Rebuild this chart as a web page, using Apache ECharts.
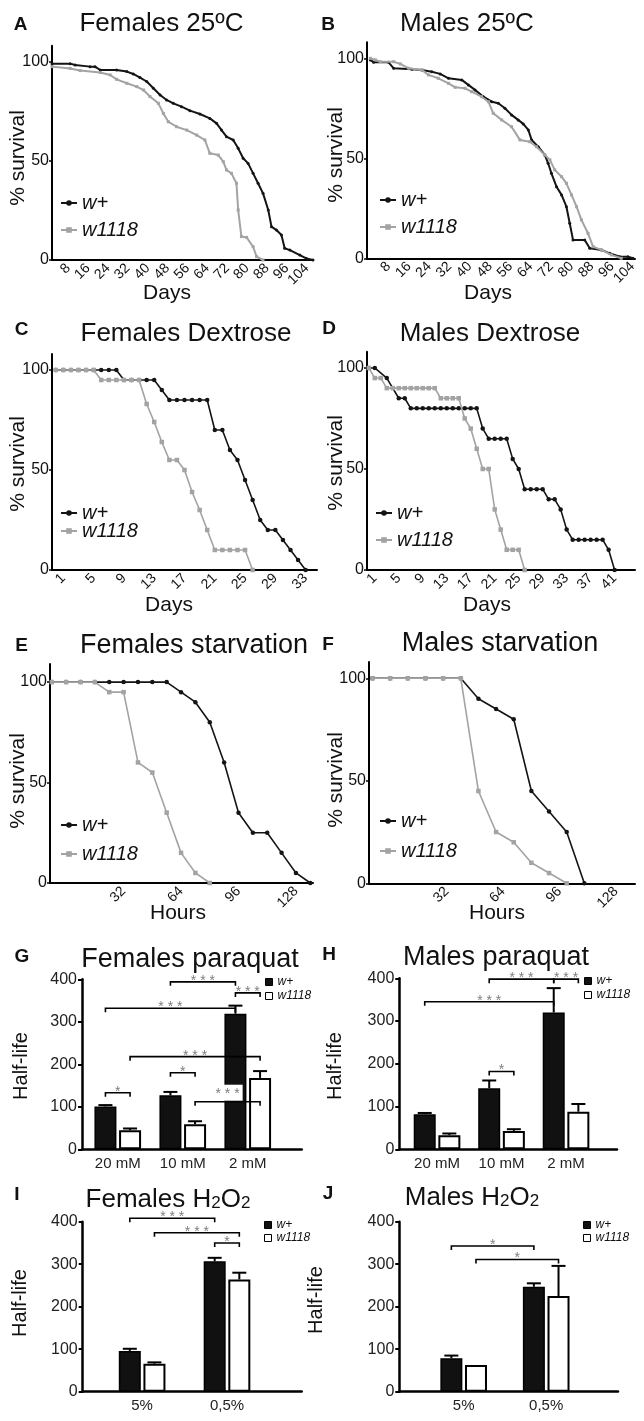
<!DOCTYPE html>
<html><head><meta charset="utf-8">
<script src="https://cdn.jsdelivr.net/npm/echarts@6/dist/echarts.min.js"></script>
<style>html,body{margin:0;padding:0;background:#fff}#c{width:644px;height:1421px}</style>
</head><body><div id="c"></div>
<script>
// ---------- DATA ----------
const A_xticks = [8,16,24,32,40,48,56,64,72,80,88,96,104];
const A_wplus = [[1.5,99],[8.8,99],[10.8,98.3],[16.8,97.5],[18.8,97.5],[20.9,95.8],[27.5,95.8],[31.6,95],[34.2,93.8],[36.9,92],[39.6,90],[42.3,86.6],[45,83.2],[47.6,80.7],[50.3,79],[53.6,77.3],[57,75.3],[61,73.6],[65,71.4],[67.7,68.9],[69.7,65.5],[71.7,62.2],[74.4,60.5],[76.4,56.3],[78.4,51.3],[80.4,48.7],[82.4,43.7],[84.4,38.7],[86.4,33.6],[88.5,25.2],[89.8,16.8],[91.8,15.1],[93.8,12.6],[95.1,5.9],[97.2,5],[101.2,2.5],[103.8,0.8],[106.5,0]];
const A_w1118 = [[1.5,97.5],[8.8,96.6],[12.8,95.5],[20.9,94.5],[24.9,93.3],[27.5,91.1],[31.6,89.1],[35.6,87.4],[38.3,85.7],[40.9,82.4],[44.3,79],[46.3,73.9],[48.3,69.7],[51.6,67.2],[55.7,65.5],[59.7,63],[63,60.5],[65,53.8],[68.4,52.9],[70.4,49.6],[71.7,45.4],[73.7,43.7],[75.7,38.7],[76.4,25.2],[77.7,11.8],[79.8,11.4],[82.4,6.7],[83.8,1.7],[86.4,0]];
const B_wplus = [[0.8,99.2],[2.1,98],[8,98],[10,95],[17.2,94.5],[21.1,94.2],[25,93.3],[28.3,92.2],[31.6,90],[36.8,89.2],[39.4,86.7],[42,84.2],[45.3,80.8],[48.6,78.3],[51.2,77.5],[53.8,75],[56.4,71.7],[59,69.2],[61,67.2],[63,64.2],[64.3,59.2],[66.9,55.8],[69.5,51.7],[70.8,47.5],[72.1,42.5],[74.1,35.8],[76.1,31.7],[78,25.8],[79.3,17.5],[80.6,9.2],[85.2,9.2],[87.2,5],[91.8,4.2],[95,2.5],[99,0.8],[102.2,0.8],[104.2,0]];
const B_w1118 = [[0.8,100],[2.8,99.2],[4.7,98.3],[10,98.3],[12.6,97.2],[15.9,95],[21.1,94.2],[23.7,91.7],[27.6,90],[31.6,87.5],[34.2,85.5],[38.1,85],[40.7,83.3],[44.6,80.8],[47.3,78.3],[49.2,72.5],[52.5,69.2],[56.4,65.8],[59.7,59.2],[63.6,58.3],[66.2,55.8],[69.5,51.7],[71.5,49.2],[73.4,44.2],[76.1,40.8],[78,37.5],[80,31.7],[82,25.8],[83.9,19.2],[86.5,12.5],[88.5,5.8],[91.8,4.2],[95.7,1.7],[99.6,0]];

const C_xticks = [1,5,9,13,17,21,25,29,33];
const C_wplus = [[0,100],[1,100],[2,100],[3,100],[4,100],[5,100],[6,100],[7,100],[8,100],[9,95],[10,95],[11,95],[12,95],[13,95],[14,90],[15,85],[16,85],[17,85],[18,85],[19,85],[20,85],[21,70],[22,70],[23,60],[24,55],[25,45],[26,35],[27,25],[28,20],[29,20],[30,15],[31,10],[32,5],[33,0]];
const C_w1118 = [[0,100],[1,100],[2,100],[3,100],[4,100],[5,100],[6,95],[7,95],[8,95],[9,95],[10,95],[11,95],[12,83],[13,74],[14,64],[15,55],[16,55],[17,50],[18,39],[19,30],[20,20],[21,10],[22,10],[23,10],[24,10],[25,10],[26,0]];

const D_xticks = [1,5,9,13,17,21,25,29,33,37,41];
const D_wplus = [[0,100],[1,100],[3,95],[5,85],[6,85],[7,80],[8,80],[9,80],[10,80],[11,80],[12,80],[13,80],[14,80],[15,80],[16,80],[17,80],[18,80],[19,70],[20,65],[21,65],[22,65],[23,65],[24,55],[25,50],[26,40],[27,40],[28,40],[29,40],[30,35],[31,35],[32,30],[33,20],[34,15],[35,15],[36,15],[37,15],[38,15],[39,15],[40,10],[41,0]];
const D_w1118 = [[0,100],[1,95],[2,95],[3,90],[4,90],[5,90],[6,90],[7,90],[8,90],[9,90],[10,90],[11,90],[12,85],[13,85],[14,85],[15,85],[16,75],[17,70],[18,60],[19,50],[20,50],[21,30],[22,20],[23,10],[24,10],[25,10],[26,0]];

const EF_xticks = [32,64,96,128];
const E_wplus = [[-8,100],[0,100],[8,100],[16,100],[24,100],[32,100],[40,100],[48,100],[56,100],[64,95],[72,90],[80,80],[88,60],[96,35],[104,25],[112,25],[120,15],[128,5],[136,0]];
const E_w1118 = [[-8,100],[0,100],[8,100],[16,100],[24,95],[32,95],[40,60],[48,55],[56,35],[64,15],[72,5],[80,0]];
const F_wplus = [[-10,100],[0,100],[10,100],[20,100],[30,100],[40,100],[50,90],[60,85],[70,80],[80,45],[90,35],[100,25],[110,0]];
const F_w1118 = [[-10,100],[0,100],[10,100],[20,100],[30,100],[40,100],[50,45],[60,25],[70,20],[80,10],[90,5],[100,0]];

const paraquatCats = ['20 mM','10 mM','2 mM'];
const G_wplus = [101,127,319], G_wplus_err = [3,8,19];
const G_w1118 = [45,59,168],   G_w1118_err = [4,7,16];
const G_brackets = [[1,0,2,0,394],[2,0,2,1,368],[0,0,2,0,332],[0,1,2,1,218],[0,0,0,1,133],[1,0,1,1,180],[1,1,2,1,112]];
const G_stars = ['***','***','***','***','*','*','***'];
const G_boxed = [0,0,0,0,0,0,1];

const H_wplus = [82,143,320], H_wplus_err = [3,18,57];
const H_w1118 = [33,43,88],   H_w1118_err = [4,4,18];
const H_brackets = [[1,0,2,0,398],[2,0,2,1,398],[0,0,2,0,345],[1,0,1,1,182]];
const H_stars = ['***','***','***','*'];
const H_boxed = [0,0,0,0];

const h2o2Cats = ['5%','0,5%'];
const I_wplus = [96,307], I_wplus_err = [5,8];
const I_w1118 = [66,264], I_w1118_err = [3,16];
const I_brackets = [[0,0,1,0,408],[0,1,1,1,374],[1,0,1,1,350]];
const I_stars = ['***','***','*'];
const I_boxed = [0,0,0];

const J_wplus = [79,247], J_wplus_err = [6,8];
const J_w1118 = [63,225], J_w1118_err = [0,71];
const J_brackets = [[0,0,1,0,343],[0,1,1,1,311]];
const J_stars = ['*','*'];
const J_boxed = [0,0];

// ---------- BUILD ----------
const FONT = '"Liberation Sans", Arial, sans-serif';
const BLK = '#141414', GRY = '#a3a3a3';
const grids = [], xAxes = [], yAxes = [], series = [], legends = [], graphics = [];

function addSurvival(id, c) {
  const i = grids.length;
  grids.push({left: c.x0, top: c.top, width: c.x1 - c.x0, height: c.y0 - c.top, containLabel: false});
  xAxes.push({gridIndex: i, type: 'value', min: c.xmin, max: c.xmax,
    axisLine: {show: true, onZero: false, lineStyle: {color: '#000', width: 2}},
    splitLine: {show: false}, axisTick: {show: false},
    axisLabel: {customValues: c.xticks, rotate: 45, fontSize: 14, fontFamily: FONT, color: '#111', margin: 6}});
  yAxes.push({gridIndex: i, type: 'value', min: 0, max: c.ymax,
    axisLine: {show: true, onZero: false, lineStyle: {color: '#000', width: 2}},
    splitLine: {show: false},
    axisTick: {show: true, length: 3, customValues: [0,50,100], lineStyle: {color: '#000', width: 1.5}},
    axisLabel: {customValues: [0,50,100], fontSize: 16, fontFamily: FONT, color: '#111', margin: 3}});
  const nb = 'w+#' + id, ng = 'w1118#' + id;
  series.push({type: 'line', name: nb, xAxisIndex: i, yAxisIndex: i, data: c.black,
    symbol: 'circle', symbolSize: c.ss, showSymbol: true, showAllSymbol: true,
    lineStyle: {color: BLK, width: c.lw}, itemStyle: {color: BLK}, z: 2, animation: false, silent: true});
  series.push({type: 'line', name: ng, xAxisIndex: i, yAxisIndex: i, data: c.grey,
    symbol: 'rect', symbolSize: c.ss, showSymbol: true, showAllSymbol: true,
    lineStyle: {color: GRY, width: c.lw}, itemStyle: {color: GRY}, z: 3, animation: false, silent: true});
  legends.push({orient: 'vertical', left: c.lx, top: c.ly, itemGap: c.lg, itemWidth: 16, itemHeight: 7,
    data: [nb, ng], selectedMode: false, padding: 0,
    formatter: n => n.split('#')[0],
    textStyle: {fontSize: 20, fontStyle: 'italic', fontFamily: FONT, color: '#111'}});
}

const BW = 22, GAP = 0.12, OFF = BW * (1 + GAP) / 2;

function addBars(id, c) {
  const i = grids.length;
  grids.push({left: c.x0, top: c.top, width: c.x1 - c.x0, height: c.y0 - c.top, containLabel: false});
  xAxes.push({gridIndex: i, type: 'value', min: c.xmin, max: c.xmax,
    axisLine: {show: true, onZero: false, lineStyle: {color: '#000', width: 2.5}},
    splitLine: {show: false}, axisTick: {show: false},
    axisLabel: {customValues: c.cats.map((_, k) => k), formatter: v => c.cats[Math.round(v)],
      fontSize: 15, fontFamily: FONT, color: '#222', margin: 7}});
  yAxes.push({gridIndex: i, type: 'value', min: 0, max: 400, interval: 100,
    axisLine: {show: true, onZero: false, lineStyle: {color: '#000', width: 2.5}},
    splitLine: {show: false},
    axisTick: {show: true, length: 4, lineStyle: {color: '#000', width: 2}},
    axisLabel: {fontSize: 16, fontFamily: FONT, color: '#222', margin: 5}});
  const nb = 'w+#' + id, ng = 'w1118#' + id;
  series.push({type: 'bar', name: nb, xAxisIndex: i, yAxisIndex: i, barWidth: BW,
    data: c.black.map((v, k) => [k, v]),
    itemStyle: {color: '#111', borderColor: '#000', borderWidth: 1.5}, z: 2, animation: false, silent: true});
  series.push({type: 'bar', name: ng, xAxisIndex: i, yAxisIndex: i, barWidth: BW, barGap: (GAP * 100) + '%',
    data: c.white.map((v, k) => [k, v]),
    itemStyle: {color: '#fff', borderColor: '#000', borderWidth: 2}, z: 2, animation: false, silent: true});
  [[c.black, c.blackErr, -OFF], [c.white, c.whiteErr, OFF]].forEach(([vals, errs, off]) => {
    series.push({type: 'custom', xAxisIndex: i, yAxisIndex: i, z: 4, animation: false, silent: true,
      data: vals.map((v, k) => [k, v, errs[k]]), encode: {x: 0, y: 1},
      renderItem: (p, api) => {
        const x = api.value(0), v = api.value(1), e = api.value(2);
        if (!e) return {type: 'group', children: []};
        const a = api.coord([x, v]), b = api.coord([x, v + e]);
        const cx = a[0] + off;
        return {type: 'group', children: [
          {type: 'line', shape: {x1: cx, y1: a[1], x2: cx, y2: b[1]}, style: {stroke: '#000', lineWidth: 2}},
          {type: 'line', shape: {x1: cx - 7, y1: b[1], x2: cx + 7, y2: b[1]}, style: {stroke: '#000', lineWidth: 2}}
        ]};
      }});
  });
  series.push({type: 'custom', xAxisIndex: i, yAxisIndex: i, z: 6, animation: false, silent: true,
    data: c.brackets, encode: {x: 0, y: 4},
    renderItem: (p, api) => {
      const g1 = api.value(0), s1 = api.value(1), g2 = api.value(2), s2 = api.value(3), y = api.value(4);
      const a = api.coord([g1, y]), b = api.coord([g2, y]);
      const xa = a[0] + (s1 ? OFF : -OFF), xb = b[0] + (s2 ? OFF : -OFF), yy = a[1];
      const boxed = c.boxed[p.dataIndex];
      const txt = c.stars[p.dataIndex].split('').join(' ');
      const ts = {text: txt, fill: '#7d7d7d', font: '14px ' + FONT,
        textAlign: 'center', align: 'center', textVerticalAlign: 'bottom', verticalAlign: 'bottom'};
      if (boxed) { ts.backgroundColor = '#fff'; ts.padding = [2, 3, 0, 3]; }
      return {type: 'group', children: [
        {type: 'polyline', shape: {points: [[xa, yy + 4], [xa, yy], [xb, yy], [xb, yy + 4]]},
          style: {stroke: '#000', lineWidth: 1.6, fill: 'none'}},
        {type: 'text', x: (xa + xb) / 2, y: boxed ? yy - 1 : yy + 6, style: ts}
      ]};
    }});
  legends.push({orient: 'vertical', left: c.lx, top: c.ly, itemGap: c.lg, itemWidth: 7, itemHeight: 7,
    selectedMode: false, padding: 0, icon: 'rect',
    data: [{name: nb, itemStyle: {color: '#111', borderColor: '#000', borderWidth: 1}},
           {name: ng, itemStyle: {color: '#fff', borderColor: '#000', borderWidth: 1}}],
    formatter: n => n.split('#')[0],
    textStyle: {fontSize: 12, fontStyle: 'italic', fontFamily: FONT, color: '#111'}});
}

addSurvival('A', {x0: 52, x1: 313, xmin: 1.5, xmax: 106.5, y0: 260, top: 45.8, ymax: 108, xticks: A_xticks,
  black: A_wplus, grey: A_w1118, ss: 3, lw: 2, lx: 60, ly: 193, lg: 7});
addSurvival('B', {x0: 367, x1: 635, xmin: -0.5, xmax: 105, y0: 258.3, top: 42.3, ymax: 108, xticks: A_xticks,
  black: B_wplus, grey: B_w1118, ss: 3, lw: 2, lx: 379, ly: 190, lg: 7});
addSurvival('C', {x0: 52, x1: 317, xmin: -0.5, xmax: 34.5, y0: 570, top: 354, ymax: 108, xticks: C_xticks,
  black: C_wplus, grey: C_w1118, ss: 4.5, lw: 1.6, lx: 60, ly: 503, lg: -2});
addSurvival('D', {x0: 367, x1: 635, xmin: -0.3, xmax: 44.4, y0: 570, top: 351.8, ymax: 108, xticks: D_xticks,
  black: D_wplus, grey: D_w1118, ss: 4.5, lw: 1.6, lx: 375, ly: 503, lg: 7});
addSurvival('E', {x0: 50, x1: 313, xmin: -9, xmax: 137.5, y0: 883, top: 664, ymax: 109, xticks: EF_xticks,
  black: E_wplus, grey: E_w1118, ss: 4.5, lw: 1.6, lx: 60, ly: 815, lg: 9});
addSurvival('F', {x0: 369, x1: 635, xmin: -12, xmax: 138.7, y0: 883.3, top: 661.9, ymax: 108, xticks: EF_xticks,
  black: F_wplus, grey: F_w1118, ss: 4.5, lw: 1.6, lx: 379, ly: 811, lg: 10});

addBars('G', {x0: 82, x1: 301.7, xmin: -0.55, xmax: 2.83, y0: 1149.3, top: 979.3, cats: paraquatCats,
  black: G_wplus, blackErr: G_wplus_err, white: G_w1118, whiteErr: G_w1118_err,
  brackets: G_brackets, stars: G_stars, boxed: G_boxed, lx: 265, ly: 976, lg: 2});
addBars('H', {x0: 399.3, x1: 617, xmin: -0.585, xmax: 2.79, y0: 1149.3, top: 978.3, cats: paraquatCats,
  black: H_wplus, blackErr: H_wplus_err, white: H_w1118, whiteErr: H_w1118_err,
  brackets: H_brackets, stars: H_stars, boxed: H_boxed, lx: 584, ly: 975, lg: 2});
addBars('I', {x0: 82.7, x1: 301.7, xmin: -0.70, xmax: 1.88, y0: 1391.7, top: 1221.7, cats: h2o2Cats,
  black: I_wplus, blackErr: I_wplus_err, white: I_w1118, whiteErr: I_w1118_err,
  brackets: I_brackets, stars: I_stars, boxed: I_boxed, lx: 264, ly: 1219, lg: 1});
addBars('J', {x0: 399.3, x1: 618, xmin: -0.78, xmax: 1.87, y0: 1391.7, top: 1221.7, cats: h2o2Cats,
  black: J_wplus, blackErr: J_wplus_err, white: J_w1118, whiteErr: J_w1118_err,
  brackets: J_brackets, stars: J_stars, boxed: J_boxed, lx: 583, ly: 1219, lg: 1});

// ---------- TEXTS ----------
function txt(t, x, y, size, opts = {}) {
  graphics.push({type: 'text', x, y, rotation: opts.rot || 0, silent: true,
    style: {text: t, fill: '#111', font: (opts.bold ? 'bold ' : '') + size + 'px ' + FONT,
      textAlign: 'center', align: 'center', textVerticalAlign: 'middle', verticalAlign: 'middle', rich: opts.rich}});
}
txt('Females 25ºC', 161.5, 24, 26); txt('Males 25ºC', 467, 24, 26);
txt('Females Dextrose', 186, 334, 26); txt('Males Dextrose', 490, 334, 26);
txt('Females starvation', 194, 645.5, 27); txt('Males starvation', 500, 644, 27);
txt('Females paraquat', 190, 960, 27); txt('Males paraquat', 496, 958, 27);
const richH = {a: {fontSize: 26, fontFamily: FONT, color: '#111'}, s: {fontSize: 17, fontFamily: FONT, color: '#111', verticalAlign: 'bottom', padding: [0,0,1,0]}};
txt('{a|Females H}{s|2}{a|O}{s|2}', 168, 1200, 26, {rich: richH});
txt('{a|Males H}{s|2}{a|O}{s|2}', 472, 1198, 26, {rich: richH});
[['A',20.5,25],['B',328,25],['C',21.5,330],['D',329,329],['E',21.5,646],['F',328,645],['G',22,957],['H',329,955],['I',17,1195],['J',328,1194]]
  .forEach(([t, x, y]) => txt(t, x, y, 19, {bold: true}));
txt('Days', 167, 293, 21); txt('Days', 488, 293, 21);
txt('Days', 169, 605, 21); txt('Days', 487, 605, 21);
txt('Hours', 178, 913, 21); txt('Hours', 497, 913, 21);
[[18,158],[336,155],[18,464],[336,463],[18,781],[336,780]].forEach(([x, y]) => txt('% survival', x, y, 21, {rot: Math.PI / 2}));
[[21,1066],[335,1066],[20,1303],[316,1300]].forEach(([x, y]) => txt('Half-life', x, y, 20, {rot: Math.PI / 2}));

const chart = echarts.init(document.getElementById('c'), null, {renderer: 'canvas'});
chart.setOption({
  animation: false, backgroundColor: '#fff',
  grid: grids, xAxis: xAxes, yAxis: yAxes, series, legend: legends, graphic: {elements: graphics}
});
</script></body></html>
